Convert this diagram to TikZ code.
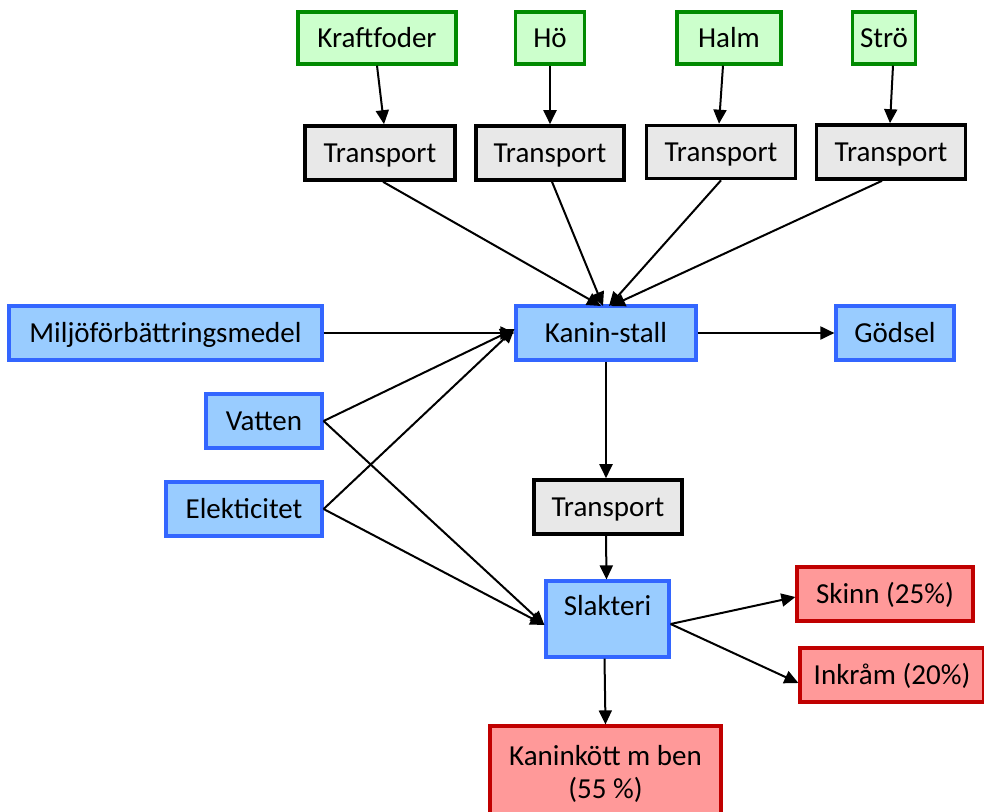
\documentclass[tikz,border=0pt]{standalone}
\usepackage{fontspec}
\setmainfont{Carlito}
\usetikzlibrary{arrows.meta}
\definecolor{grfill}{HTML}{CCFFCC}
\definecolor{grline}{HTML}{008A00}
\definecolor{blfill}{HTML}{99CCFF}
\definecolor{blline}{HTML}{3366FF}
\definecolor{gyfill}{HTML}{E8E8E8}
\definecolor{rdfill}{HTML}{FF9999}
\definecolor{rdline}{HTML}{C00000}
\tikzset{
  base/.style={rectangle, inner sep=0pt, line width=3.2pt, font=\fontsize{29}{33}\selectfont, align=center, text=black, text height=25pt, text depth=7pt},
  gbox/.style={base, draw=grline, fill=grfill},
  bbox/.style={base, draw=blline, fill=blfill},
  tbox/.style={base, draw=black, fill=gyfill, line width=3.6pt},
  rbox/.style={base, draw=rdline, fill=rdfill},
  conn/.style={line width=2pt, -{Triangle[length=14pt,width=13pt]}},
}
\begin{document}
\begin{tikzpicture}[x=1pt,y=-1pt]
\useasboundingbox (0,0) rectangle (984,811);
% sources
\node[gbox, minimum width=158, minimum height=52] (kraft) at (377,38) {Kraftfoder};
\node[gbox, minimum width=69, minimum height=52] (ho) at (550,38) {Hö};
\node[gbox, minimum width=104, minimum height=52] (halm) at (729,38) {Halm};
\node[gbox, minimum width=63, minimum height=52] (stro) at (884,38) {Strö};
% transports
\node[tbox, minimum width=150, minimum height=54] (t1) at (380,153) {Transport};
\node[tbox, minimum width=148, minimum height=54] (t2) at (550,153) {Transport};
\node[tbox, minimum width=149, minimum height=53] (t3) at (721,152) {Transport};
\node[tbox, minimum width=149, minimum height=54] (t4) at (891,152) {Transport};
% middle
\node[bbox, minimum width=313, minimum height=54] (milj) at (165.5,333) {Miljöförbättringsmedel};
\node[bbox, minimum width=180, minimum height=54] (kanin) at (606,333) {Kanin-stall};
\node[bbox, minimum width=118, minimum height=54] (godsel) at (895,333) {Gödsel};
\node[bbox, minimum width=116, minimum height=54] (vatten) at (264,421) {Vatten};
\node[bbox, minimum width=156, minimum height=54] (el) at (244,509) {Elekticitet};
\node[tbox, minimum width=148, minimum height=54] (t5) at (608,507) {Transport};
\node[bbox, minimum width=123, minimum height=76, text height=20pt, text depth=28pt] (slakt) at (607.5,619) {Slakteri};
% outputs
\node[rbox, minimum width=176, minimum height=54] (skinn) at (885,594) {Skinn (25\%)};
\node[rbox, minimum width=184, minimum height=54] (inkram) at (892,675) {Inkråm (20\%)};
\node[rbox, minimum width=231, minimum height=95, text height=, text depth=] (kott) at (605.5,773.5) {Kaninkött m ben\\(55 \%)};
% connectors
\draw[conn] (kraft.south) -- ([xshift=4pt]t1.north);
\draw[conn] (ho.south) -- (t2.north);
\draw[conn] ([xshift=-6pt]halm.south) -- ([xshift=-2pt]t3.north);
\draw[conn] ([xshift=9pt]stro.south) -- ([xshift=-1pt]t4.north);
\coordinate (kin) at (607,306);
\draw[conn] ([xshift=3pt]t1.south) -- ([xshift=-6pt]kin);
\draw[conn] ([xshift=2pt]t2.south) -- ([xshift=-4pt]kin);
\draw[conn] (t3.south) -- ([xshift=2pt]kin);
\draw[conn] ([xshift=-9pt]t4.south) -- ([xshift=4pt]kin);
\draw[conn] (milj.east) -- (kanin.west);
\draw[conn] (vatten.east) -- ([yshift=4pt]kanin.west);
\draw[conn] (el.east) -- ([yshift=4pt]kanin.west);
\draw[conn] (vatten.east) -- ([yshift=-6pt]slakt.west);
\draw[conn] (el.east) -- ([yshift=-6pt]slakt.west);
\draw[conn] (kanin.east) -- (godsel.west);
\draw[conn] (kanin.south) -- ([xshift=-2pt]t5.north);
\draw[conn] ([xshift=-2pt]t5.south) -- ([xshift=-1pt]slakt.north);
\draw[conn] ([yshift=-5pt]slakt.east) -- ([yshift=-3pt]skinn.west);
\draw[conn] ([yshift=-5pt]slakt.east) -- ([yshift=-8pt]inkram.west);
\draw[conn] ([xshift=-3pt]slakt.south) -- (kott.north);
\end{tikzpicture}
\end{document}
